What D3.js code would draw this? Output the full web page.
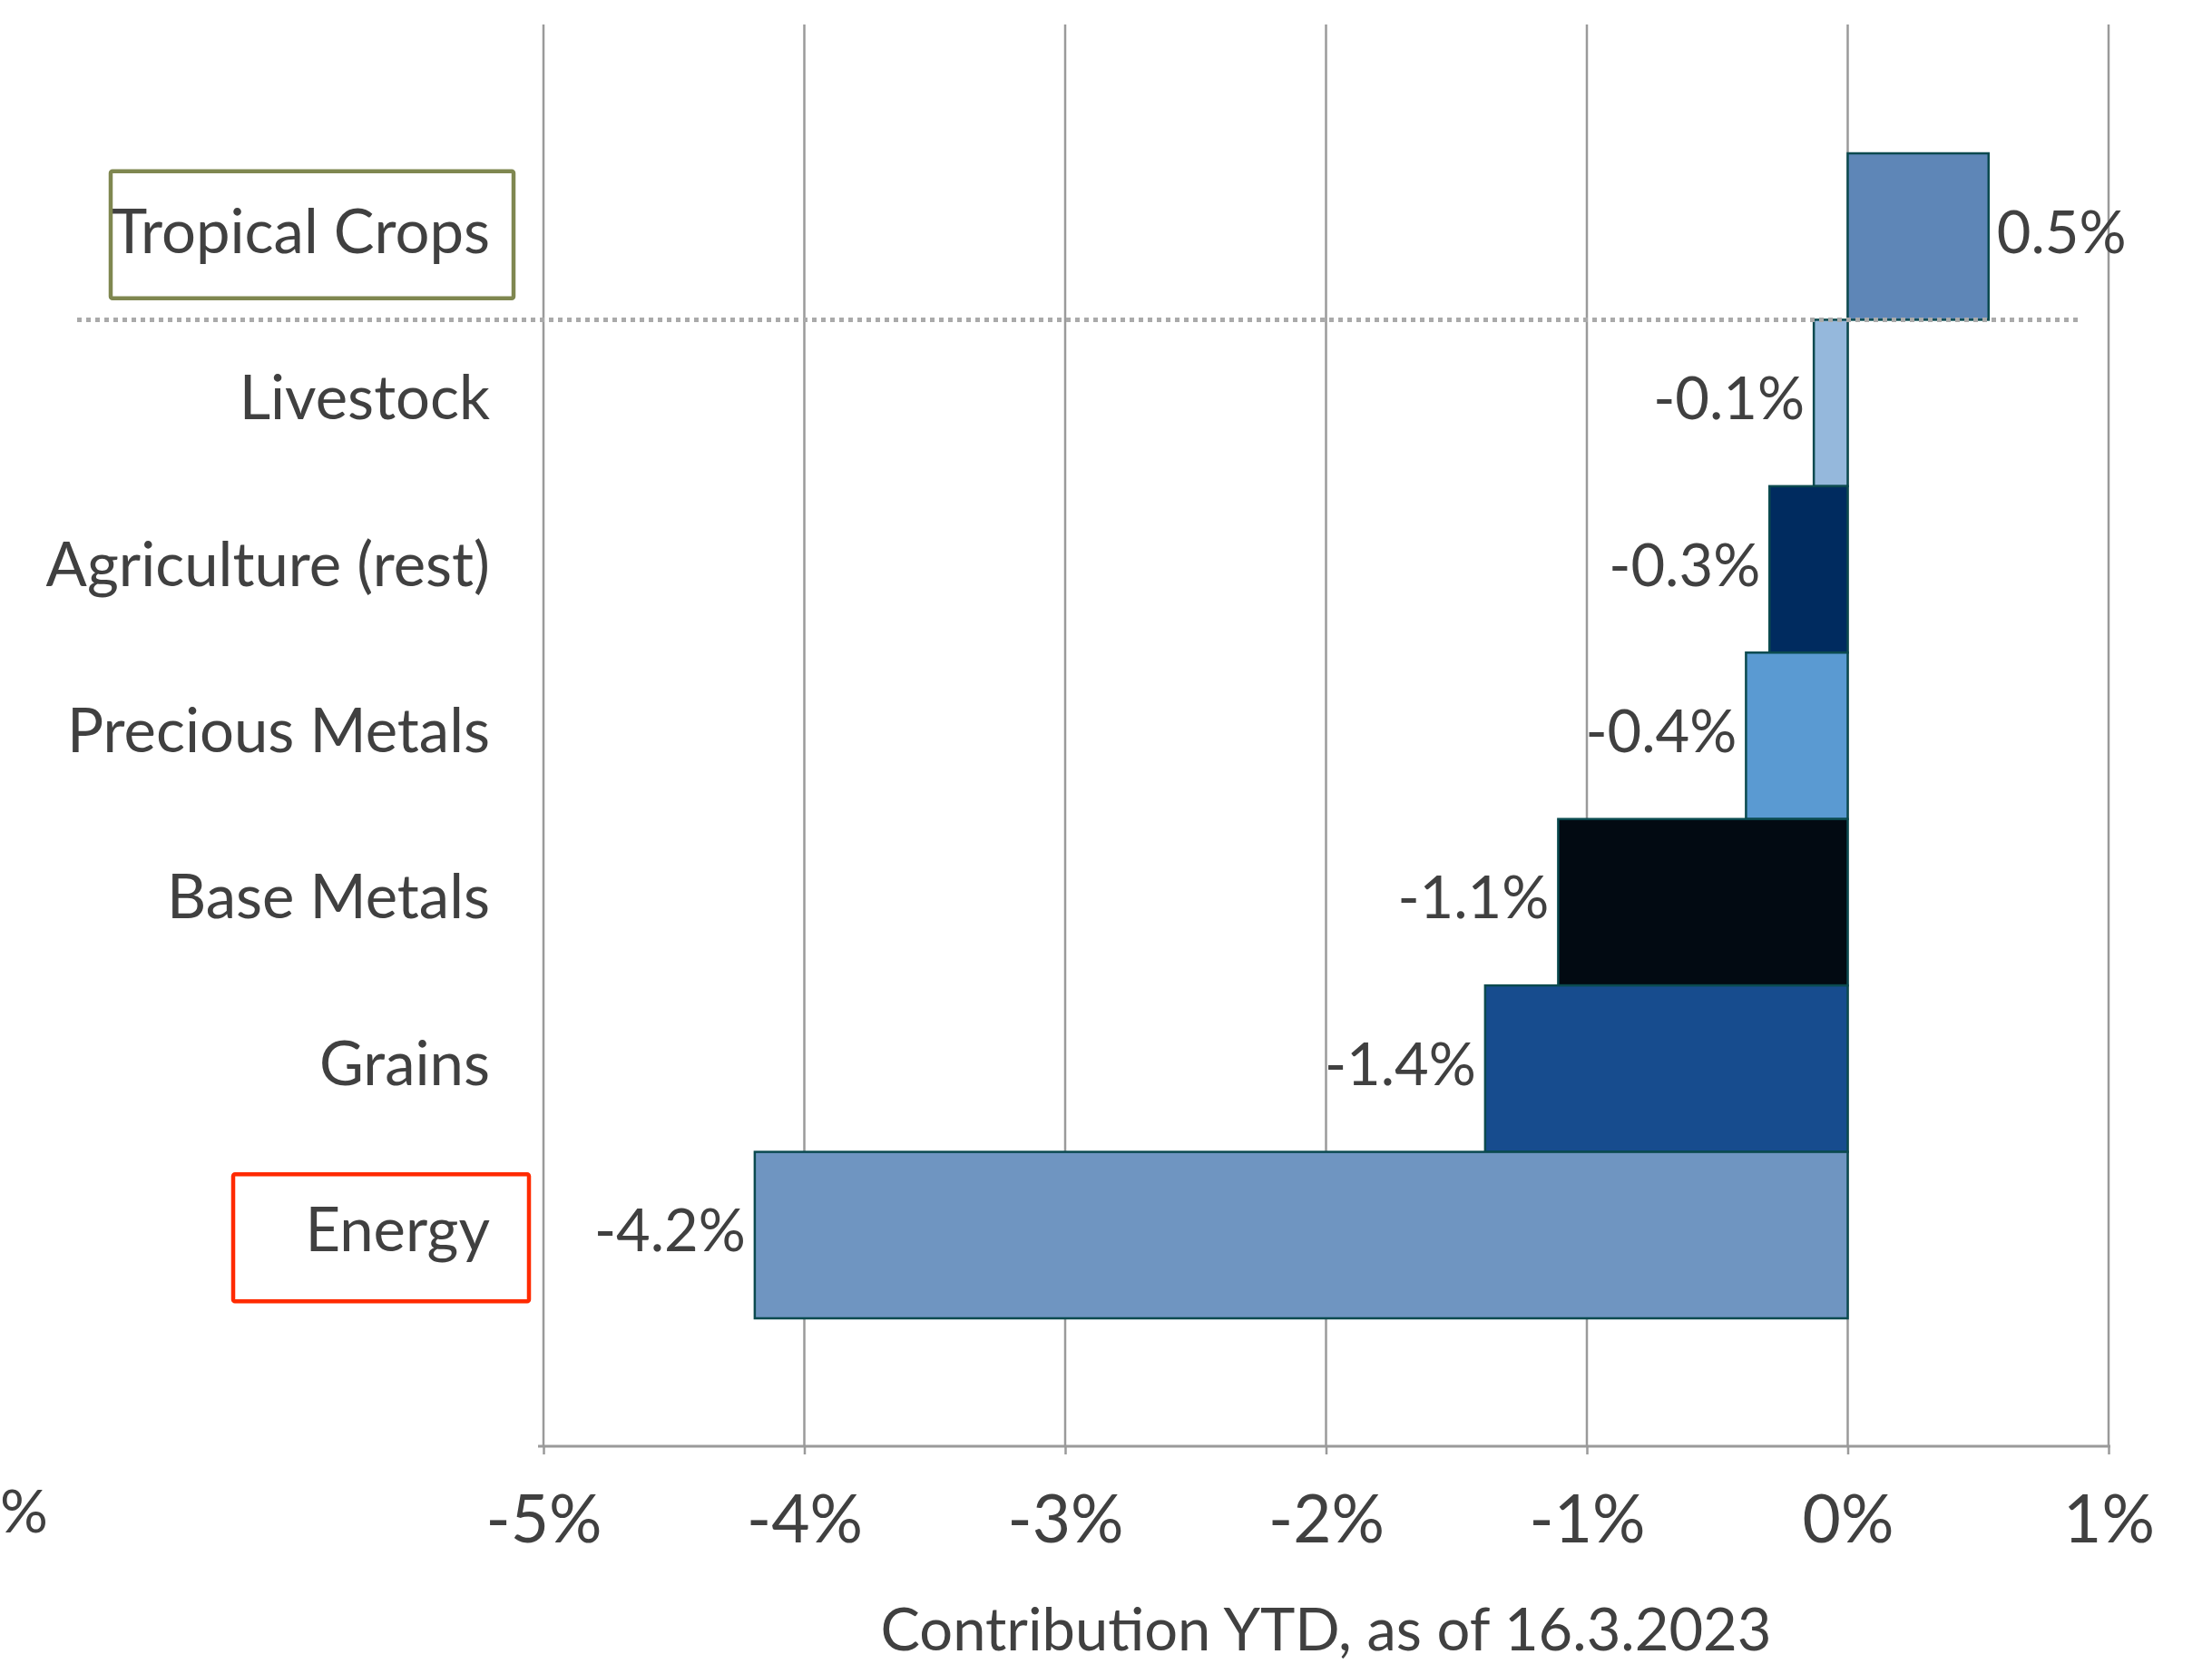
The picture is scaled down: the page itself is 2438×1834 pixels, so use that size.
<!DOCTYPE html>
<html>
<head>
<meta charset="utf-8">
<script src="https://cdn.jsdelivr.net/npm/d3@7"></script>
<style>
  html, body { margin: 0; padding: 0; background: #ffffff; }
  svg { display: block; }
  text { font-family: Lato, "Open Sans", sans-serif; fill: #404040; }
</style>
</head>
<body>
<script>
// Commodity sector contributions to year-to-date return (percentage points)
const categories = ["Tropical Crops", "Livestock", "Agriculture (rest)", "Precious Metals", "Base Metals", "Grains", "Energy"];
const contributions = [0.54, -0.13, -0.30, -0.39, -1.11, -1.39, -4.19];
const barColors = ["#5e86b7", "#95b8dc", "#002b5f", "#5a9ad2", "#020a12", "#174c8e", "#6f95c1"];
const tickValues = [-5, -4, -3, -2, -1, 0, 1];
const axisTitle = "Contribution YTD, as of 16.3.2023";
const highlighted = [
  { category: "Tropical Crops", color: "#7f8750" },
  { category: "Energy", color: "#ff2a00" }
];

const W = 2438, H = 1834;
const svg = d3.select("body").append("svg").attr("width", W).attr("height", H);

const x = d3.scaleLinear().domain([-5, 1]).range([599, 2324]);
const y = d3.scaleBand().domain(categories).range([169, 1453]).padding(0);
const axisY = 1594;
const gridTop = 27;

// percent labels with a plain hyphen for negatives
const pct = (v, digits) => v.toFixed(digits) + "%";

// vertical gridlines
svg.append("g").selectAll("line").data(tickValues).join("line")
  .attr("x1", d => x(d)).attr("x2", d => x(d))
  .attr("y1", gridTop).attr("y2", axisY)
  .attr("stroke", "#9a9a9a").attr("stroke-width", 2.5);

// x axis with small outward ticks
const xAxis = d3.axisBottom(x).tickValues(tickValues).tickSize(9).tickSizeOuter(0)
  .tickFormat(d => pct(d, 0));
const gx = svg.append("g").attr("transform", `translate(0,${axisY})`).call(xAxis);
gx.select(".domain").attr("stroke", "#9a9a9a").attr("stroke-width", 3)
  .attr("d", `M${x(-5) - 6},0H${x(1) + 2}`);
gx.selectAll(".tick line").attr("stroke", "#9a9a9a").attr("stroke-width", 2.5);
gx.selectAll(".tick text")
  .attr("y", 0).attr("dy", null)
  .attr("transform", `translate(0,${1700 - axisY})`)
  .style("font-size", "73px").style("font-family", "Lato, sans-serif").attr("fill", "#404040");

// remnant of a further tick label at the left edge
svg.append("text").attr("x", 0).attr("y", 1689).attr("text-anchor", "start")
  .style("font-size", "66px").text("%");

// bars
const data = categories.map((c, i) => ({ category: c, value: contributions[i], color: barColors[i] }));
svg.append("g").selectAll("rect").data(data).join("rect")
  .attr("x", d => x(Math.min(0, d.value)))
  .attr("width", d => Math.abs(x(d.value) - x(0)))
  .attr("y", d => y(d.category))
  .attr("height", y.bandwidth())
  .attr("fill", d => d.color)
  .attr("stroke", "#0b4a4f").attr("stroke-width", 2.5);

// value labels
svg.append("g").selectAll("text").data(data).join("text")
  .attr("x", d => d.value >= 0 ? x(d.value) + 9 : x(d.value) - 10)
  .attr("y", d => y(d.category) + y.bandwidth() / 2 + 18)
  .attr("text-anchor", d => d.value >= 0 ? "start" : "end")
  .style("font-size", "65px")
  .text(d => pct(d.value, 1));

// category labels
svg.append("g").selectAll("text").data(categories).join("text")
  .attr("x", 540)
  .attr("y", d => y(d) + y.bandwidth() / 2 + 18)
  .attr("text-anchor", "end")
  .style("font-size", "67px")
  .text(d => d);

// dotted separator between positive and negative contributors
svg.append("line")
  .attr("x1", 85).attr("x2", 2292)
  .attr("y1", y("Livestock")).attr("y2", y("Livestock"))
  .attr("stroke", "#aaaaaa").attr("stroke-width", 5)
  .attr("stroke-dasharray", "5 5");

// highlight boxes around selected category labels
const boxX = { "Tropical Crops": [122, 566], "Energy": [257, 583] };
svg.append("g").selectAll("rect").data(highlighted).join("rect")
  .attr("x", d => boxX[d.category][0])
  .attr("width", d => boxX[d.category][1] - boxX[d.category][0])
  .attr("y", d => y(d.category) + y.bandwidth() / 2 - 72 + (d.category === "Energy" ? 5 : 0))
  .attr("height", 140)
  .attr("rx", 2)
  .attr("fill", "none")
  .attr("stroke", d => d.color).attr("stroke-width", 4.5);

// axis title
svg.append("text")
  .attr("x", (x(-5) + x(1)) / 2).attr("y", 1819)
  .attr("text-anchor", "middle")
  .style("font-size", "65px")
  .text(axisTitle);
</script>
</body>
</html>
